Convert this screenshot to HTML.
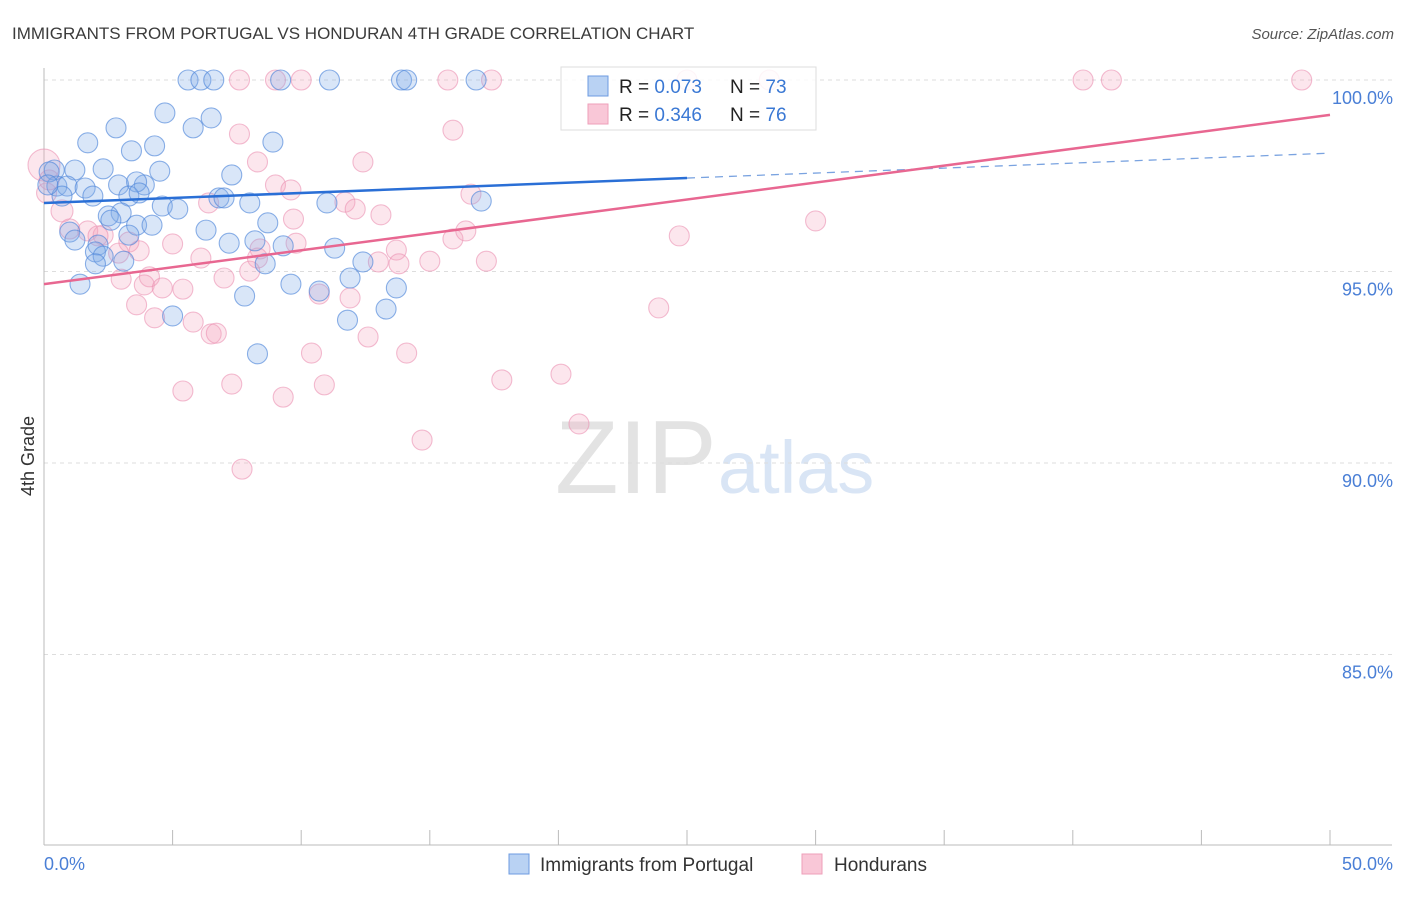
<!DOCTYPE html>
<html><head><meta charset="utf-8"><style>
body{margin:0;background:#fff;font-family:"Liberation Sans",sans-serif;}
svg text{font-family:"Liberation Sans",sans-serif;}
</style></head><body>
<svg id="chart" width="1406" height="892" viewBox="0 0 1406 892">
<text x="12" y="39" font-size="17" fill="#3b3b3b">IMMIGRANTS FROM PORTUGAL VS HONDURAN 4TH GRADE CORRELATION CHART</text>
<text x="1394" y="39" font-size="15" fill="#555" font-style="italic" text-anchor="end">Source: ZipAtlas.com</text>
<text x="555" y="493" font-size="104" fill="#e3e3e3" font-family="Liberation Serif">ZIP</text>
<text x="718" y="493" font-size="74" fill="#d9e5f5">atlas</text>
<g id="grid"></g>
<g id="axes"></g>
<g id="pts"></g>
<g id="trends"></g>
<text transform="translate(34,456) rotate(-90)" font-size="18" fill="#333" text-anchor="middle">4th Grade</text>
<g>
<rect x="561" y="67" width="255" height="63" fill="#fff" fill-opacity="0.85" stroke="#ddd"/>
<rect x="588" y="76" width="20" height="20" fill="#b9d2f3" stroke="#6d9be0"/>
<rect x="588" y="104" width="20" height="20" fill="#f9c7d7" stroke="#ee9fba"/>
<text x="619" y="93" font-size="19" fill="#222">R = <tspan fill="#3a78d4">0.073</tspan></text>
<text x="730" y="93" font-size="19" fill="#222">N = <tspan fill="#3a78d4">73</tspan></text>
<text x="619" y="121" font-size="19" fill="#222">R = <tspan fill="#3a78d4">0.346</tspan></text>
<text x="730" y="121" font-size="19" fill="#222">N = <tspan fill="#3a78d4">76</tspan></text>
</g>
<g>
<rect x="509" y="854" width="20" height="20" fill="#b9d2f3" stroke="#6d9be0"/>
<text x="540" y="871" font-size="19" fill="#333">Immigrants from Portugal</text>
<rect x="802" y="854" width="20" height="20" fill="#f9c7d7" stroke="#ee9fba"/>
<text x="834" y="871" font-size="19" fill="#333">Hondurans</text>
</g>
</svg>
<script>
const yTicks=[100,95,90,85];
const xTickVals=[0,5,10,15,20,25,30,35,40,45,50];
const blueX=[5.6,6.1,6.6,9.2,11.1,13.9,14.1,16.8,4.7,5.8,6.5,2.8,1.7,3.4,4.3,8.9,2.3,1.2,4.5,7.3,0.4,0.5,0.9,1.6,2.9,3.9,3.6,0.7,1.9,3.3,3.7,6.8,8.0,7.0,4.6,5.2,11.0,17.0,3.0,2.5,2.6,3.6,4.2,6.3,8.7,1.0,1.2,2.1,3.3,7.2,8.2,9.3,11.3,2.0,2.3,2.0,3.1,8.6,1.4,12.4,11.9,9.6,7.8,10.7,13.7,13.3,11.8,5.0,8.3,0.2,0.15];
const blueY=[100,100,100,100,100,100,100,100,99.14,98.75,99.01,98.75,98.36,98.15,98.28,98.38,97.68,97.65,97.62,97.52,97.65,97.23,97.23,97.18,97.26,97.26,97.34,96.97,96.97,96.97,97.05,96.92,96.79,96.92,96.71,96.63,96.79,96.84,96.53,96.45,96.34,96.21,96.21,96.08,96.27,96.03,95.82,95.69,95.95,95.74,95.80,95.67,95.61,95.51,95.40,95.20,95.27,95.20,94.67,95.25,94.83,94.67,94.36,94.49,94.57,94.02,93.73,93.84,92.85,97.6,97.26];
const pinkX=[7.6,9.0,10.0,15.7,17.4,25.0,40.4,41.5,48.9,28.2,15.9,7.6,12.4,8.3,0.0,9.0,9.6,16.6,11.7,12.1,6.4,13.1,9.7,30.0,0.7,1.0,1.7,2.3,3.3,5.0,6.1,3.7,2.1,2.9,8.4,8.3,9.8,13.7,13.0,13.8,15.0,17.2,15.9,16.4,24.7,3.0,4.1,3.9,5.4,7.0,8.0,4.6,3.6,4.3,5.8,6.5,6.7,10.7,11.9,12.6,23.9,10.4,14.1,5.4,7.3,9.3,10.9,17.8,20.1,7.7,14.7,20.8,0.1,0.2];
const pinkY=[100,100,100,100,100,100,100,100,100,100,98.69,98.59,97.86,97.86,97.78,97.26,97.13,97.02,96.81,96.63,96.79,96.48,96.37,96.32,96.58,96.11,96.06,95.95,95.77,95.72,95.35,95.54,95.93,95.48,95.59,95.35,95.74,95.56,95.25,95.20,95.27,95.27,95.85,96.06,95.93,94.80,94.86,94.65,94.54,94.83,95.01,94.57,94.13,93.79,93.68,93.37,93.39,94.41,94.31,93.29,94.05,92.87,92.87,91.88,92.06,91.72,92.04,92.17,92.32,89.84,90.60,91.02,97.05,97.39];
const pinkBig=[14,24];
const blueTrend=[96.79,97.44,98.09];
const pinkTrend=[94.67,99.09];
const NS='http://www.w3.org/2000/svg';
const X0=44,X1=1330,YTOP=80,PX=38.3;
const xs=v=>X0+(v/50)*(X1-X0);
const ys=v=>YTOP+(100-v)*PX;
function mk(tag,attrs,parent){const e=document.createElementNS(NS,tag);for(const k in attrs)e.setAttribute(k,attrs[k]);document.getElementById(parent).appendChild(e);return e;}
yTicks.forEach(t=>{
 const l=mk('line',{x1:X0,x2:1392,y1:ys(t),y2:ys(t),stroke:'#ddd','stroke-dasharray':'4,4'},'grid');
 
 
 const tx=mk('text',{x:1393,y:ys(t)+24,'font-size':18,fill:'#4a7fd6','text-anchor':'end'},'grid');
 tx.textContent=t.toFixed(1)+'%';
 
 
});
const ax=mk('line',{x1:X0,x2:X0,y1:68,y2:845,stroke:'#bbb'},'axes');


const bx=mk('line',{x1:X0,x2:1392,y1:845,y2:845,stroke:'#bbb'},'axes');


xTickVals.forEach(v=>{
 const t=mk('line',{x1:xs(v),x2:xs(v),y1:830,y2:845,stroke:'#bbb'},'axes');
 
 
});
const xl0=mk('text',{x:X0,y:870,'font-size':18,fill:'#4a7fd6'},'axes');xl0.textContent=xTickVals[0].toFixed(1)+'%';


const xl1=mk('text',{x:1393,y:870,'font-size':18,fill:'#4a7fd6','text-anchor':'end'},'axes');xl1.textContent=xTickVals[xTickVals.length-1].toFixed(1)+'%';


pinkX.forEach((v,i)=>{
 const c=mk('circle',{cx:xs(v),cy:ys(pinkY[i]),r:pinkBig.includes(i)?(i===14?16:11):10,fill:'rgba(244,165,192,0.28)',stroke:'rgba(235,145,178,0.6)','stroke-width':1.1},'pts');
 
 
});
blueX.forEach((v,i)=>{
 const c=mk('circle',{cx:xs(v),cy:ys(blueY[i]),r:10,fill:'rgba(130,172,232,0.3)',stroke:'rgba(80,135,218,0.65)','stroke-width':1.1},'pts');
 
 
});
const b1=mk('line',{x1:xs(0),y1:ys(blueTrend[0]),x2:xs(25),y2:ys(blueTrend[1]),stroke:'#2a6fd6','stroke-width':2.5},'trends');


const b2=mk('line',{x1:xs(25),y1:ys(blueTrend[1]),x2:xs(50),y2:ys(blueTrend[2]),stroke:'#7aa3e0','stroke-width':1.3,'stroke-dasharray':'8,6'},'trends');


const p1=mk('line',{x1:xs(0),y1:ys(pinkTrend[0]),x2:xs(50),y2:ys(pinkTrend[1]),stroke:'#e86791','stroke-width':2.5},'trends');


</script>
</body></html>
